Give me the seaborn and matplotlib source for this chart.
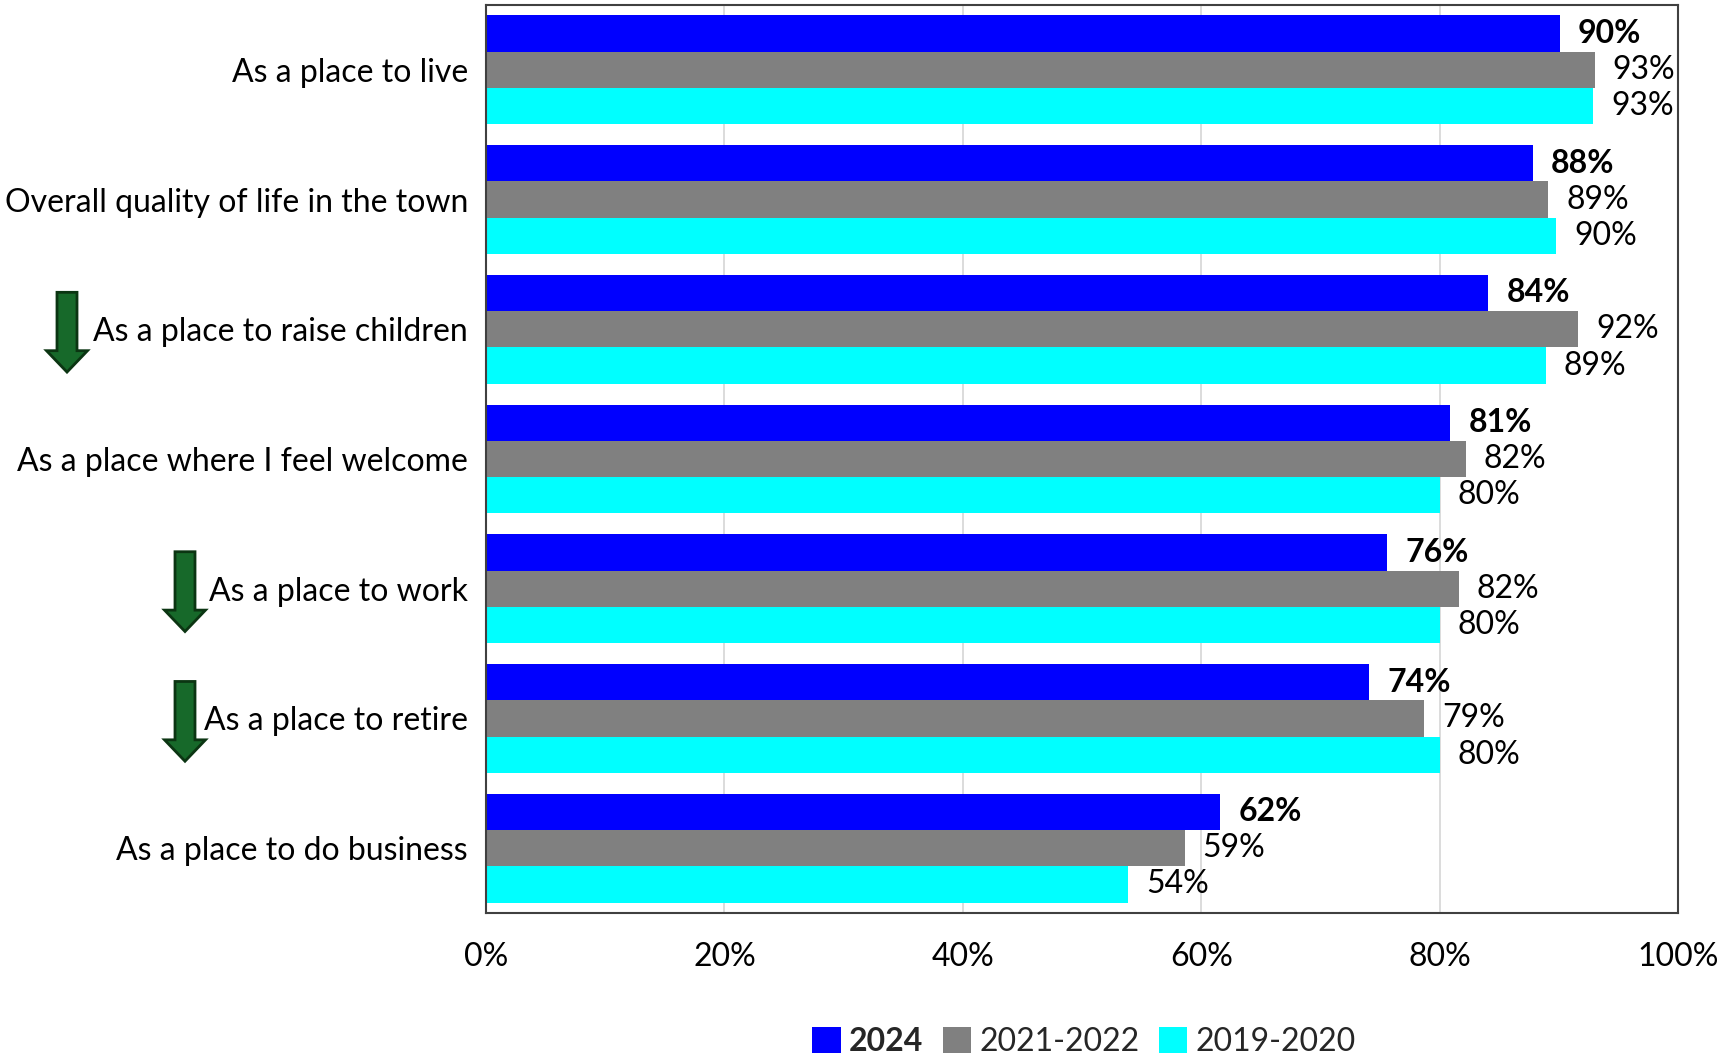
import matplotlib
matplotlib.use("Agg")
import matplotlib.pyplot as plt
import matplotlib.transforms as mtransforms
from matplotlib.patches import Polygon
from matplotlib.ticker import PercentFormatter, MultipleLocator
import seaborn as sns
import pandas as pd

categories = [
    "As a place to live",
    "Overall quality of life in the town",
    "As a place to raise children",
    "As a place where I feel welcome",
    "As a place to work",
    "As a place to retire",
    "As a place to do business",
]
periods = ["2024", "2021-2022", "2019-2020"]
values_2024 = [90.1, 87.8, 84.1, 80.9, 75.6, 74.1, 61.6]
values_2021_2022 = [93.0, 89.1, 91.6, 82.2, 81.6, 78.7, 58.6]
values_2019_2020 = [92.9, 89.8, 88.9, 80.0, 80.0, 80.0, 53.9]
colors = ["#0000FF", "#808080", "#00FFFF"]
# categories marked with a downward arrow, and the arrow's horizontal position (figure px)
arrow_categories = ["As a place to raise children", "As a place to work", "As a place to retire"]
arrow_x_px = [67, 185, 185]

rows = []
for per, vals in zip(periods, [values_2024, values_2021_2022, values_2019_2020]):
    for c, v in zip(categories, vals):
        rows.append({"category": c, "period": per, "value": v})
df = pd.DataFrame(rows)

sns.set_theme(style="white")
plt.rcParams["font.family"] = ["Lato", "DejaVu Sans"]

W, H = 1727, 1054
fig = plt.figure(figsize=(W / 100, H / 100), dpi=100)
ax = fig.add_axes([486 / W, 1 - 913 / H, (1678 - 486) / W, (913 - 5) / H])

sns.barplot(data=df, y="category", x="value", hue="period", order=categories,
            hue_order=periods, palette=colors, orient="h", width=0.84,
            saturation=1, linewidth=0, legend=False, ax=ax)

ax.set_xlim(0, 100)
ax.set_ylim(len(categories) - 0.5, -0.5)
ax.xaxis.set_major_locator(MultipleLocator(20))
ax.xaxis.set_major_formatter(PercentFormatter(100, decimals=0))
ax.set_xlabel("")
ax.set_ylabel("")
ax.grid(axis="x", color="#d9d9d9", linewidth=1.3)
ax.set_axisbelow(True)
for sp in ax.spines.values():
    sp.set_visible(True)
    sp.set_color("#404040")
    sp.set_linewidth(1.5)
ax.tick_params(axis="x", length=0, pad=21, labelsize=23, labelcolor="black")
ax.tick_params(axis="y", length=0, pad=13, labelsize=23, labelcolor="black")

for i, cont in enumerate(ax.containers):
    ax.bar_label(cont, fmt="{:.0f}%", padding=13, fontsize=23,
                 fontweight="bold" if i == 0 else "normal", color="black")

# arrows
trans = mtransforms.blended_transform_factory(fig.transFigure, ax.transData)
for cat, xp in zip(arrow_categories, arrow_x_px):
    yc = categories.index(cat)
    sw = 10 / W
    hw = 20.5 / W
    xc = xp / W
    top = yc - 0.285
    head = yc + 0.165
    tip = yc + 0.33
    pts = [(xc - sw, top), (xc + sw, top), (xc + sw, head), (xc + hw, head),
           (xc, tip), (xc - hw, head), (xc - sw, head)]
    ax.add_patch(Polygon(pts, closed=True, transform=trans, facecolor="#17692a",
                         edgecolor="#0b3512", linewidth=2, clip_on=False))

handles = [cont.patches[0] for cont in ax.containers]
leg = fig.legend(handles, periods, loc="center", bbox_to_anchor=(1084 / W, 1 - 1042 / H),
                 ncol=3, frameon=False, fontsize=23, handlelength=0.9, handleheight=0.9,
                 handletextpad=0.25, columnspacing=0.6, borderaxespad=0, borderpad=0)
leg.get_texts()[0].set_fontweight("bold")

fig.savefig("out.png", dpi=100)
